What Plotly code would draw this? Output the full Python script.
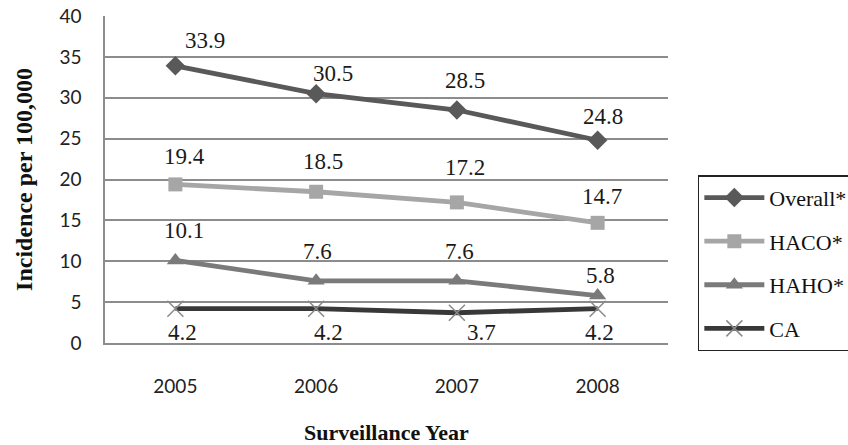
import plotly.graph_objects as go

# Surveillance data: incidence per 100,000 by year
years = ["2005", "2006", "2007", "2008"]
overall = [33.9, 30.5, 28.5, 24.8]
haco = [19.4, 18.5, 17.2, 14.7]
haho = [10.1, 7.6, 7.6, 5.8]
ca = [4.2, 4.2, 3.7, 4.2]
series_names = ["Overall*", "HACO*", "HAHO*", "CA"]
y_ticks = [0, 5, 10, 15, 20, 25, 30, 35, 40]

# Styling per series: line colour, marker symbol, marker size, marker colour
styles = [
    dict(color="#595959", symbol="diamond", size=15, mcolor="#595959", mline=0),
    dict(color="#a6a6a6", symbol="square", size=14, mcolor="#a6a6a6", mline=0),
    dict(color="#7a7a7a", symbol="triangle-up", size=15, mcolor="#7a7a7a", mline=0),
    dict(color="#383838", symbol="x-thin-open", size=16, mcolor="#8a8a8a", mline=1.5),
]

# Pixel offsets (dx, dy) of the value labels relative to each point
label_offsets = [
    [(30, -25), (17, -20), (8, -30), (5, -24)],
    [(9, -28), (7, -30), (8, -35), (4, -26)],
    [(9, -30), (1, -29), (3, -29), (3, -20)],
    [(7, 24), (12, 24), (25, 20), (2, 24)],
]

serif = "Liberation Serif, Times New Roman, serif"
sans = "Lato, Open Sans, sans-serif"

fig = go.Figure()
all_values = [overall, haco, haho, ca]
for name, vals, st in zip(series_names, all_values, styles):
    fig.add_trace(go.Scatter(
        x=years, y=vals, name=name, mode="lines+markers",
        legendgroup=name,
        line=dict(color=st["color"], width=4.8),
        marker=dict(symbol=st["symbol"], size=st["size"], color=st["mcolor"],
                    line=dict(width=st["mline"], color=st["mcolor"])),
        hoverinfo="skip",
    ))

# Value labels; category positions are given by index on the category axis
annotations = []
for vals, offs in zip(all_values, label_offsets):
    for i, (v, (dx, dy)) in enumerate(zip(vals, offs)):
        annotations.append(dict(
            x=i, y=v, xref="x", yref="y", text=f"{v:.1f}", showarrow=False,
            xshift=dx, yshift=-dy, font=dict(family=serif, size=23, color="#1a1a1a"),
        ))

fig.update_layout(
    width=848, height=445,
    margin=dict(l=105, r=180, t=16, b=102, autoexpand=False),
    paper_bgcolor="white", plot_bgcolor="white",
    annotations=annotations,
    showlegend=True,
    legend=dict(
        x=1.053, y=0.513, xanchor="left", yanchor="top",
        font=dict(family=serif, size=22, color="#111111"),
        bordercolor="#222222", borderwidth=1.5, bgcolor="white",
        tracegroupgap=12, itemwidth=60,
    ),
    xaxis=dict(
        type="category", range=[-0.5, 3.5], automargin=False,
        showgrid=False, showline=True, linecolor="#8c8c8c", linewidth=1.5,
        ticks="outside", ticklen=25, tickcolor="rgba(0,0,0,0)",
        tickfont=dict(family=sans, size=19, color="#222222"),
        title=dict(text="<b>Surveillance Year</b>", standoff=30,
                   font=dict(family=serif, size=22, color="#111111")),
    ),
    yaxis=dict(
        range=[0, 40], tickvals=y_ticks, automargin=False,
        showgrid=True, gridcolor="#8c8c8c", gridwidth=1.5,
        showline=True, linecolor="#8c8c8c", linewidth=1.5,
        zeroline=False,
        ticks="outside", ticklen=18, tickcolor="rgba(0,0,0,0)",
        tickfont=dict(family=sans, size=19, color="#222222"),
        title=dict(text="<b>Incidence per 100,000</b>", standoff=20,
                   font=dict(family=serif, size=24, color="#111111")),
    ),
)

fig.write_html("out.html")
